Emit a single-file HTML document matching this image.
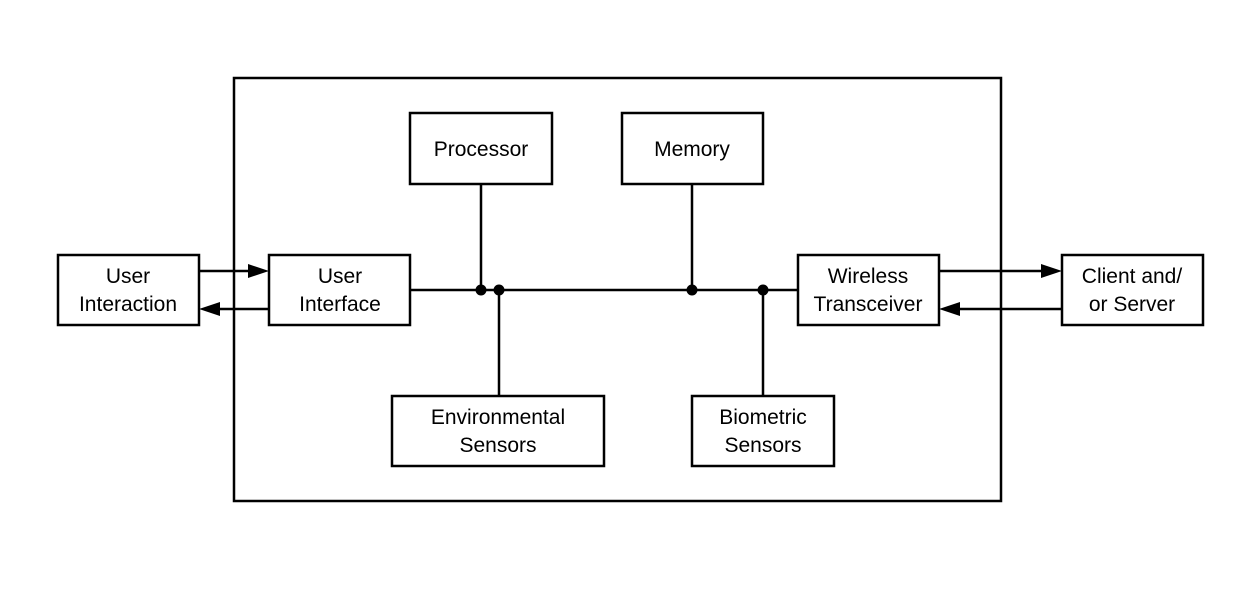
<!DOCTYPE html>
<html><head><meta charset="utf-8"><style>
html,body{margin:0;padding:0;background:#fff;}
svg{display:block;}
text{font-family:"Liberation Sans",Arial,sans-serif;font-size:21px;fill:#000;text-anchor:middle;}
</style></head><body>
<svg width="1240" height="596" viewBox="0 0 1240 596" xmlns="http://www.w3.org/2000/svg">
<g fill="none" stroke="#000" stroke-width="2.5">
<rect x="234" y="78" width="767" height="423"/>
<rect x="410" y="113" width="142" height="71"/>
<rect x="622" y="113" width="141" height="71"/>
<rect x="58" y="255" width="141" height="70"/>
<rect x="269" y="255" width="141" height="70"/>
<rect x="798" y="255" width="141" height="70"/>
<rect x="1062" y="255" width="141" height="70"/>
<rect x="392" y="396" width="212" height="70"/>
<rect x="692" y="396" width="142" height="70"/>
<line x1="410" y1="290" x2="798" y2="290"/>
<line x1="481" y1="184" x2="481" y2="290"/>
<line x1="499" y1="290" x2="499" y2="396"/>
<line x1="692" y1="184" x2="692" y2="290"/>
<line x1="763" y1="290" x2="763" y2="396"/>
<line x1="199" y1="271" x2="250" y2="271"/>
<line x1="218" y1="309" x2="269" y2="309"/>
<line x1="939" y1="271" x2="1043" y2="271"/>
<line x1="958" y1="309" x2="1062" y2="309"/>
</g>
<g fill="#000">
<circle cx="481" cy="290" r="5.5"/>
<circle cx="499" cy="290" r="5.5"/>
<circle cx="692" cy="290" r="5.5"/>
<circle cx="763" cy="290" r="5.5"/>
<polygon points="269,271 248,264 248,278"/>
<polygon points="199,309 220,302 220,316"/>
<polygon points="1062,271 1041,264 1041,278"/>
<polygon points="939,309 960,302 960,316"/>
</g>
<text x="481" y="156">Processor</text>
<text x="692" y="156">Memory</text>
<text x="128" y="283">User</text>
<text x="128" y="311">Interaction</text>
<text x="340" y="283">User</text>
<text x="340" y="311">Interface</text>
<text x="868" y="283">Wireless</text>
<text x="868" y="311">Transceiver</text>
<text x="1132" y="283">Client and/</text>
<text x="1132" y="311">or Server</text>
<text x="498" y="424">Environmental</text>
<text x="498" y="452">Sensors</text>
<text x="763" y="424">Biometric</text>
<text x="763" y="452">Sensors</text>
</svg>
</body></html>
